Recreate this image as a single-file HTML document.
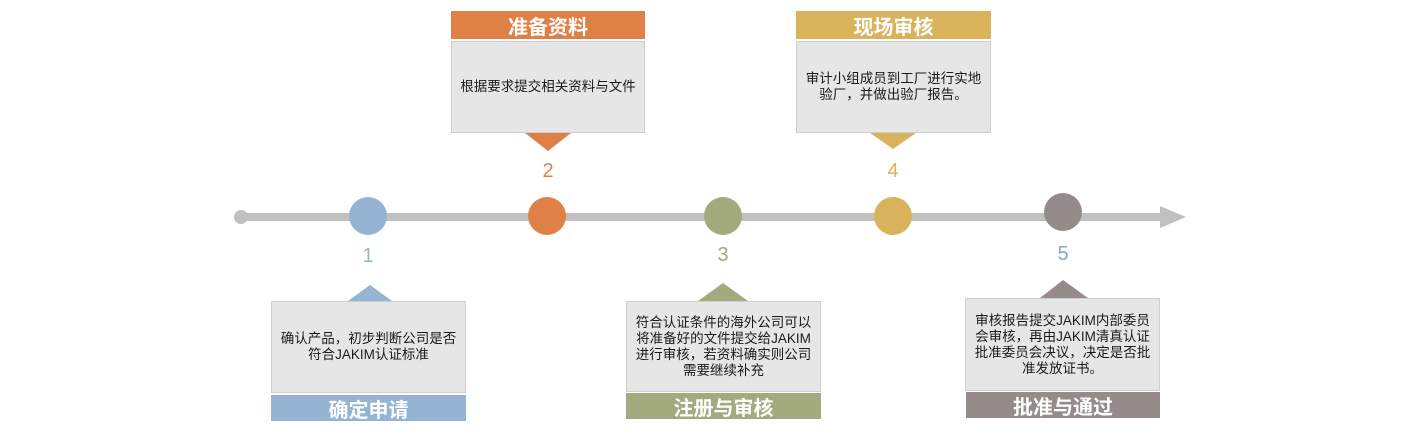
<!DOCTYPE html>
<html><head><meta charset="utf-8"><style>
body{margin:0;width:1415px;height:448px;background:#fff;position:relative;overflow:hidden;font-family:"Liberation Sans","Noto Sans CJK SC",sans-serif}
.a{position:absolute}
.body{position:absolute;background:#e6e6e6;border:1px solid #cfcfcf;box-sizing:border-box;display:flex;align-items:center;justify-content:center;text-align:center;font-size:13.5px;line-height:16px;color:#1a1a1a;padding:0 6px}
.hd{position:absolute;color:#fff;font-weight:bold;font-size:20px;display:flex;align-items:center;justify-content:center}
.num{position:absolute;font-size:20px;width:40px;text-align:center}
</style></head><body>
<svg class="a" style="left:0;top:0" width="1415" height="448">
<line x1="241" y1="217" x2="1165" y2="217" stroke="#c0c0c0" stroke-width="8"/>
<circle cx="241" cy="217" r="7" fill="#c0c0c0"/>
<polygon points="1160,206 1186,217 1160,228" fill="#c0c0c0"/>
<circle cx="368" cy="216" r="19" fill="#94b4d1"/>
<circle cx="547" cy="216" r="19" fill="#df8146"/>
<circle cx="723" cy="216" r="19" fill="#a3aa7e"/>
<circle cx="893" cy="216" r="19" fill="#d9b35b"/>
<circle cx="1063" cy="212" r="19" fill="#958b8a"/>
<polygon points="525,133 571,133 548,151" fill="#df8146"/>
<polygon points="870,133 916,133 893,149" fill="#d9b35b"/>
<polygon points="348,301 392,301 370,285" fill="#94b4d1"/>
<polygon points="698,301 748,301 723,283" fill="#a3aa7e"/>
<polygon points="1040,298 1088,298 1063,280" fill="#958b8a"/>
</svg>
<div class="num" style="left:348px;top:245px;color:#94b4d1">1</div>
<div class="num" style="left:528px;top:160px;color:#d9854f">2</div>
<div class="num" style="left:703px;top:244px;color:#a3aa7e">3</div>
<div class="num" style="left:873px;top:160px;color:#d9b35b">4</div>
<div class="num" style="left:1043px;top:243px;color:#8ba6c0">5</div>

<div class="hd" style="left:451px;top:11px;width:194px;height:28px;background:#df8146">准备资料</div>
<div class="body" style="left:451px;top:41px;width:194px;height:92px">根据要求提交相关资料与文件</div>

<div class="hd" style="left:796px;top:11px;width:195px;height:28px;background:#d9b35b">现场审核</div>
<div class="body" style="left:796px;top:41px;width:195px;height:92px">审计小组成员到工厂进行实地<br>验厂，并做出验厂报告。</div>

<div class="body" style="left:271px;top:301px;width:195px;height:92px">确认产品，初步判断公司是否<br>符合JAKIM认证标准</div>
<div class="hd" style="left:271px;top:395px;width:195px;height:26px;background:#94b4d1">确定申请</div>

<div class="body" style="left:626px;top:301px;width:195px;height:91px">符合认证条件的海外公司可以<br>将准备好的文件提交给JAKIM<br>进行审核，若资料确实则公司<br>需要继续补充</div>
<div class="hd" style="left:626px;top:393px;width:195px;height:26px;background:#a3aa7e">注册与审核</div>

<div class="body" style="left:965px;top:298px;width:195px;height:93px">审核报告提交JAKIM内部委员<br>会审核，再由JAKIM清真认证<br>批准委员会决议，决定是否批<br>准发放证书。</div>
<div class="hd" style="left:966px;top:392px;width:194px;height:26px;background:#958b8a">批准与通过</div>
</body></html>
